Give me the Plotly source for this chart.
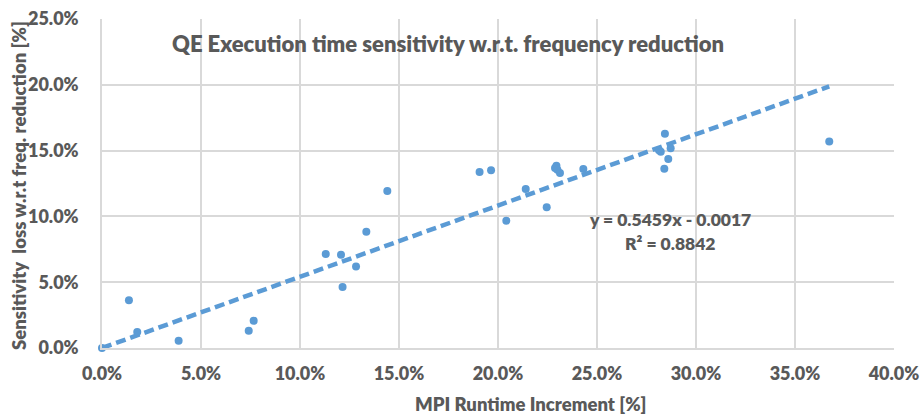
import plotly.graph_objects as go

# MPI runtime increment (fraction)
mpi_runtime_increment = [0.0, 0.0136, 0.0178, 0.0387, 0.0741, 0.0766,
                         0.1130, 0.1207, 0.1215, 0.1283, 0.1335, 0.1441,
                         0.1907, 0.1965, 0.2042, 0.2140, 0.2246, 0.2295,
                         0.2288, 0.2300, 0.2313, 0.2431, 0.2843, 0.2813,
                         0.2822, 0.2872, 0.2860, 0.2840, 0.3673]
# Sensitivity loss w.r.t. frequency reduction (fraction)
sensitivity_loss = [0.0, 0.0362, 0.0122, 0.0055, 0.0131, 0.0207,
                    0.0714, 0.0709, 0.0463, 0.0620, 0.0884, 0.1193,
                    0.1337, 0.1350, 0.0967, 0.1208, 0.1069, 0.1385,
                    0.1368, 0.1355, 0.1330, 0.1360, 0.1628, 0.1502,
                    0.1492, 0.1517, 0.1436, 0.1362, 0.1570]

trend_slope = 0.5459
trend_intercept = -0.0017
trend_r2 = 0.8842

x_ticks = [0.0, 0.05, 0.10, 0.15, 0.20, 0.25, 0.30, 0.35, 0.40]
y_ticks = [0.0, 0.05, 0.10, 0.15, 0.20, 0.25]

txt = "#595959"
grid = "#d9d9d9"
blue = "#5b9bd5"
font = "Lato"
wt = 800

W, H = 921, 414
L, R, T, B = 102, 27, 19, 66
pw, ph = W - L - R, H - T - B

def px(xp):
    return (xp - L) / pw

def py(yp):
    return (H - B - yp) / ph

x0 = 0.0
x1 = max(mpi_runtime_increment)
trend_x = [x0, x1]
trend_y = [max(0.0, trend_slope * x0 + trend_intercept), trend_slope * x1 + trend_intercept]

fig = go.Figure()
fig.add_trace(go.Scatter(x=trend_x, y=trend_y, mode="lines",
                         line=dict(color=blue, width=4.5, dash="10px,5px"),
                         hoverinfo="skip", showlegend=False, cliponaxis=False))
fig.add_trace(go.Scatter(x=mpi_runtime_increment, y=sensitivity_loss, mode="markers",
                         marker=dict(color=blue, size=8), showlegend=False, cliponaxis=False))

tickfont = dict(family=font, size=18, color=txt, weight=wt)

def f(size):
    return dict(family=font, size=size, color=txt, weight=wt)

fig.update_layout(
    width=W, height=H,
    margin=dict(l=L, r=R, t=T, b=B),
    paper_bgcolor="white", plot_bgcolor="white",
    font=dict(family=font, color=txt),
    xaxis=dict(range=[0, 0.40], tickvals=x_ticks, tickformat=".1%",
               showgrid=True, gridcolor=grid, gridwidth=1.5,
               showline=True, linecolor=grid, linewidth=2, zeroline=False,
               tickfont=tickfont, ticks="", ticklen=0, automargin=False,
               ticklabelstandoff=8),
    yaxis=dict(range=[0, 0.25], tickvals=y_ticks, tickformat=".1%",
               showgrid=True, gridcolor=grid, gridwidth=1.5,
               showline=True, linecolor=grid, linewidth=1.5, zeroline=False,
               tickfont=tickfont, ticks="", ticklen=0, automargin=False,
               ticklabelstandoff=18),
    annotations=[
        dict(text="QE Execution time sensitivity w.r.t. frequency reduction",
             x=px(448), y=py(44), xref="paper", yref="paper", showarrow=False,
             xanchor="center", yanchor="middle", font=f(22)),
        dict(text=f"y = {trend_slope:.4f}x - {abs(trend_intercept):.4f}",
             x=px(670), y=py(219), xref="paper", yref="paper", showarrow=False,
             xanchor="center", yanchor="middle", font=f(17.5)),
        dict(text=f"R² = {trend_r2:.4f}",
             x=px(670), y=py(243), xref="paper", yref="paper", showarrow=False,
             xanchor="center", yanchor="middle", font=f(17.5)),
        dict(text="MPI Runtime Increment [%]",
             x=px(531), y=py(404), xref="paper", yref="paper", showarrow=False,
             xanchor="center", yanchor="middle", font=f(18.5)),
        dict(text="Sensitivity  loss w.r.t freq. reduction [%]",
             x=px(19), y=py(186), xref="paper", yref="paper", showarrow=False,
             xanchor="center", yanchor="middle", textangle=-90, font=f(18.5)),
    ],
)

fig.write_html("out.html")
